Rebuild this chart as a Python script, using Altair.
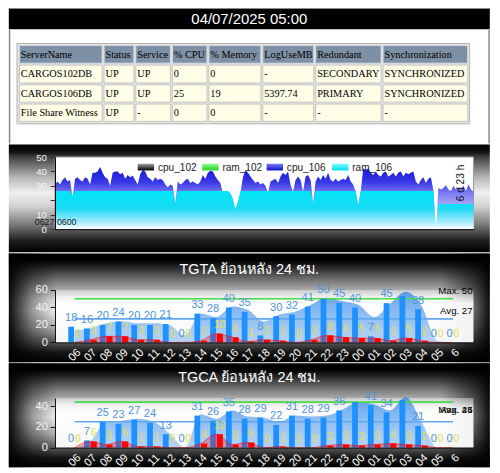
import altair as alt
import pandas as pd

S = 0.962


def p(v):
    return round(v * S, 2)


SANS = "Liberation Sans"
SERIF = "Liberation Serif"

# ---------------- data ----------------
HEADER_TEXT = "04/07/2025 05:00"

TABLE_COLUMNS = ["ServerName", "Status", "Service", "% CPU", "% Memory", "LogUseMB", "Redundant", "Synchronization"]
TABLE_ROW_1 = ["CARGOS102DB", "UP", "UP", "0", "0", "-", "SECONDARY", "SYNCHRONIZED"]
TABLE_ROW_2 = ["CARGOS106DB", "UP", "UP", "25", "19", "5397.74", "PRIMARY", "SYNCHRONIZED"]
TABLE_ROW_3 = ["File Share Witness", "UP", "-", "0", "0", "-", "-", "-"]

MONITOR_START = "0627 0600"
MONITOR_SPAN = "6 d 23 h"
LEGEND_NAMES = ["cpu_102", "ram_102", "cpu_106", "ram_106"]

CPU_106 = [
    31, 33, 31, 34, 36, 33, 34, 22, 35, 36, 34, 33,
    36, 35, 31, 39, 39, 40, 43, 39, 36, 35, 30, 39,
    40, 40, 38, 39, 35, 37.5, 36, 37, 34, 31, 38, 41,
    40, 36, 35, 33, 36, 34, 35, 34, 31, 29, 31, 30,
    18, 33, 31, 32, 34, 35, 32, 33, 32, 31, 33, 37.5,
    35, 39, 40.5, 40, 36.5, 34, 32, 25, 24, 24, 24, 20,
    13, 17, 25, 36, 41, 39, 36.5, 34, 32, 33, 31, 32,
    30, 25, 33, 34, 35, 32, 36.5, 39, 37.5, 40, 31, 26,
    34, 36.5, 34, 26, 36.5, 37.5, 34, 18, 33, 36.5, 34, 37.5,
    35, 39, 34, 33, 35, 33, 34, 35, 34, 37.5, 33, 31,
    26, 16, 26, 42, 41, 42, 39, 37.5, 40, 37.5, 36.5, 39,
    40, 36.5, 37.5, 39, 36.5, 39, 40, 36.5, 39, 38, 39, 40,
    33, 31, 34, 36, 32, 35, 36, 27, 0, 28.5, 27.5, 28.5,
    30.5, 27.5, 26.5, 30, 27.5, 28.5, 27.5, 30, 26.5, 31, 27.5, 26,
]
RAM_106 = [
    26.5, 26.5, 26.5, 26.5, 26.5, 26.5, 26.5, 23, 26.5, 26.5, 26.5, 26.5,
    26.5, 26.5, 26.5, 26.5, 26.5, 26.5, 26.5, 26.5, 26.5, 26.5, 26.5, 26.5,
    26.5, 26.5, 26.5, 26.5, 26.5, 26.5, 26.5, 26.5, 26.5, 26.5, 26.5, 26.5,
    26.5, 26.5, 26.5, 26.5, 26.5, 26.5, 26.5, 26.5, 26.5, 26.5, 26.5, 26.5,
    18, 26.5, 26.5, 26.5, 26.5, 26.5, 26.5, 26.5, 26.5, 26.5, 26.5, 26.5,
    26.5, 26.5, 26.5, 26.5, 26.5, 26.5, 26.5, 26.5, 26.5, 26.5, 25, 21,
    14, 19, 26.5, 26.5, 26.5, 26.5, 26.5, 26.5, 26.5, 26.5, 26.5, 26.5,
    26.5, 26.5, 26.5, 26.5, 26.5, 26.5, 26.5, 26.5, 26.5, 26.5, 26.5, 26.5,
    26.5, 26.5, 26.5, 26.5, 26.5, 26.5, 26.5, 18, 26.5, 26.5, 26.5, 26.5,
    26.5, 26.5, 26.5, 26.5, 26.5, 26.5, 26.5, 26.5, 26.5, 26.5, 26.5, 26.5,
    26.5, 16.5, 26.5, 26.5, 26.5, 26.5, 26.5, 26.5, 26.5, 26.5, 26.5, 26.5,
    26.5, 26.5, 26.5, 26.5, 26.5, 26.5, 26.5, 26.5, 26.5, 26.5, 26.5, 26.5,
    26.5, 26.5, 26.5, 26.5, 26.5, 26.5, 26.5, 26.5, 0, 17.5, 17.5, 17.5,
    17.5, 17.5, 17.5, 17.5, 17.5, 17.5, 17.5, 17.5, 17.5, 17.5, 17.5, 17.5,
]

HOURS = ["06", "07", "08", "09", "10", "11", "12", "13", "14", "15", "16", "17",
         "18", "19", "20", "21", "22", "23", "00", "01", "02", "03", "04", "05", "6"]

TGTA_TITLE = "TGTA ย้อนหลัง 24 ชม."
TGTA_COUNT = [18, 16, 20, 24, 20, 20, 21, 0, 33, 28, 40, 35, 8, 30, 32, 41, 50, 45, 40, 7, 45, 53, 38, 0, 0]
TGTA_TREND = [14, 16, 22, 24, 22, 22, 20, 8, 33, 29, 41, 37, 24, 32, 35, 43, 51, 47, 43, 29, 44, 58, 42, 2, 0]
TGTA_ERROR = [0, 3, 7, 7, 3, 3, 0, 0, 2, 10, 6, 1, 3, 2, 0, 3, 8, 6, 5, 5, 2, 5, 2, 0, 0]
TGTA_MAX = 50
TGTA_AVG = 27
TGTA_HIDDEN = ["03"]

TGCA_TITLE = "TGCA ย้อนหลัง 24 ชม."
TGCA_COUNT = [0, 7, 25, 23, 27, 24, 13, 0, 31, 26, 35, 28, 29, 22, 31, 28, 29, 36, 44, 41, 34, 46, 21, 0, 0]
TGCA_TREND = [0, 6, 25, 26, 28, 25, 14, 0, 32, 28, 36, 30, 29, 25, 31, 30, 31, 37, 44, 42, 36, 49, 25, 0, 0]
TGCA_ERROR = [0, 6, 3, 6, 1, 1, 0, 0, 4, 13, 3, 5, 0, 1, 0, 0, 2, 3, 2, 3, 4, 3, 2, 0, 0]
TGCA_MAX = 44
TGCA_AVG = 25
TGCA_HIDDEN = ["00", "03"]

# ---------------- layout / style constants (reference pixels) ----------------
COL_EDGES = [10, 98, 131, 169, 207, 263, 318, 388, 478]
ROW_EDGES = [37, 57.5, 78, 98, 118]
LEGEND_X = [86, 153, 220, 288]
LEGEND_STOPS = [
    [(0, "#a0a0a0"), (1, "#000000")],
    [(0, "#8cff8c"), (1, "#20d020")],
    [(0, "#7a7aff"), (1, "#1010c8")],
    [(0, "#7affff"), (1, "#00dcef")],
]

ONE = pd.DataFrame({"k": [0]})

# every panel: plot origin at reference x = 48, plot width 435, 17 to the right
PW, PL, PR = p(435), p(48), p(17)


def grad(stops, vertical=True):
    gs = [alt.GradientStop(offset=o, color=c) for o, c in stops]
    if vertical:
        return alt.Gradient(gradient="linear", x1=0, x2=0, y1=0, y2=1, stops=gs)
    return alt.Gradient(gradient="linear", x1=0, x2=1, y1=0, y2=0, stops=gs)


def box(x0, x1, y0, y1, **mark):
    return alt.Chart(ONE).mark_rect(**mark).encode(
        x=alt.value(x0), x2=alt.value(x1), y=alt.value(y0), y2=alt.value(y1))


def label(text, x, y, **mark):
    return alt.Chart(ONE).mark_text(text=text, **mark).encode(x=alt.value(x), y=alt.value(y))


# ---------------- header ----------------
header = alt.layer(
    box(-PL, PW + PR, 0, p(22), fill="#000000"),
    box(-PL, PW + PR, 0, 1, fill="#8c8c8c"),
    label(HEADER_TEXT, p(250 - 48), p(12), color="white", font=SANS, fontSize=p(15.5),
          align="center", baseline="middle"),
).properties(width=PW, height=p(22))

# ---------------- table ----------------
cells = []
for r, row in enumerate([TABLE_COLUMNS, TABLE_ROW_1, TABLE_ROW_2, TABLE_ROW_3]):
    for c, txt in enumerate(row):
        cells.append({
            "x0": COL_EDGES[c] + 1, "x1": COL_EDGES[c + 1] - 1,
            "y0": ROW_EDGES[r] + 1, "y1": ROW_EDGES[r + 1] - 1,
            "tx": COL_EDGES[c] + 2.5, "ty": (ROW_EDGES[r] + ROW_EDGES[r + 1]) / 2 + 0.5,
            "text": txt, "row": r,
        })
cells_df = pd.DataFrame(cells)
head_df = cells_df[cells_df["row"] == 0]
body_df = cells_df[cells_df["row"] > 0]
TX = alt.Scale(domain=[48, 483], nice=False, zero=False)
TY = alt.Scale(domain=[22, 140], nice=False, zero=False, reverse=True)


def cell_rects(df, fill, stroke):
    return alt.Chart(df).mark_rect(fill=fill, stroke=stroke, strokeWidth=1).encode(
        x=alt.X("x0:Q", scale=TX, axis=None), x2="x1:Q",
        y=alt.Y("y0:Q", scale=TY, axis=None), y2="y1:Q")


table_text = alt.Chart(cells_df).mark_text(
    align="left", baseline="middle", font=SERIF, fontSize=p(10.7), color="#000000").encode(
    x=alt.X("tx:Q", scale=TX, axis=None), y=alt.Y("ty:Q", scale=TY, axis=None), text="text:N")

table = alt.layer(
    box(-PL, PW + PR, 0, p(118), fill="#ffffff"),
    box(-PL, -PL + 1.5, 0, p(118), fill="#8a8a8a"),
    box(PW + PR - 1.5, PW + PR, 0, p(118), fill="#8a8a8a"),
    box(p(8.5 - 48), p(479 - 48), p(14), p(97.5), fill="#e4e4e4", stroke="#b4b4b4", strokeWidth=1),
    cell_rects(head_df, "#7e90a5", "#d4dae2"),
    cell_rects(body_df, "#fffee6", "#c6c6c6"),
    table_text,
).properties(width=PW, height=p(118))

# ---------------- monitor area chart ----------------
MH, MT, MB = p(75), p(13), p(24)
mon_df = pd.DataFrame({"h": list(range(len(CPU_106))), "cpu_106": CPU_106, "ram_106": RAM_106})
MXS = alt.Scale(domain=[0, len(CPU_106) - 1], nice=False, zero=False)
MYS = alt.Scale(domain=[0, 50], nice=False)
MXA = alt.Axis(labels=False, ticks=False, grid=False, title=None, domainColor="#000000", zindex=1)
MYA = alt.Axis(values=[0, 10, 20, 30, 40, 50], labelExpr="datum.value == 20 ? '' : datum.label",
               labelColor="#f4f4f4", labelFont=SANS, labelFontSize=p(10), tickColor="#333333",
               tickSize=p(5), labelPadding=p(4), domainColor="#000000", grid=False, title=None, zindex=1)

mon_bg = box(-PL, PW + PR, -MT, MH + MB, fill=grad([
    (0, "#000000"), (0.07, "#111111"), (0.12, "#444444"), (0.31, "#b8b8b8"), (0.45, "#f0f0f0"),
    (0.58, "#d0d0d0"), (0.76, "#707070"), (0.9, "#1a1a1a"), (1, "#000000")]))
mon_plot = box(0, PW, 0, MH, fill="#ffffff", stroke="#9a9a9a", strokeWidth=1)
cpu_area = alt.Chart(mon_df).mark_area(fill=grad([
    (0, "#1414d4"), (0.25, "#3a3ae8"), (0.42, "#7c7cf2"), (1, "#ffffff")])).encode(
    x=alt.X("h:Q", scale=MXS, axis=MXA), y=alt.Y("cpu_106:Q", scale=MYS, axis=MYA))
ram_area = alt.Chart(mon_df).mark_area(fill=grad([
    (0, "#00e6f6"), (0.45, "#18daf4"), (0.8, "#9eeafb"), (1, "#ffffff")])).encode(
    x=alt.X("h:Q", scale=MXS, axis=MXA), y=alt.Y("ram_106:Q", scale=MYS, axis=MYA))

legend_layers = []
for name, lx, stops in zip(LEGEND_NAMES, LEGEND_X, LEGEND_STOPS):
    legend_layers.append(box(p(lx), p(lx + 17), p(7), p(14), fill=grad(stops)))
    legend_layers.append(label(name, p(lx + 21), p(11), align="left", baseline="middle",
                               font=SANS, fontSize=p(10.5), color="#222222"))

monitor = alt.layer(
    mon_bg, mon_plot, cpu_area, ram_area, *legend_layers,
    label(MONITOR_START, -p(21), p(68), align="left", baseline="middle", font=SANS,
          fontSize=p(9.2), color="#1a1a1a"),
    label(MONITOR_SPAN, p(422), p(27), angle=270, align="center", baseline="middle", font=SANS,
          fontSize=p(10.5), color="#111111"),
).properties(width=PW, height=MH)

# ---------------- hourly panels ----------------
HOUR_EXPR = "[" + ",".join("'%s'" % h for h in HOURS) + "][datum.value]"


def hour_panel(title, count, trend, error, vmax, vavg, ymax, yticks, H, T, B, hidden, max_y, avg_y):
    df = pd.DataFrame({
        "i": list(range(len(HOURS))), "hour": HOURS, "count": count, "trend": trend, "error": error,
        "count_label": ["" if h in hidden else str(c) for h, c in zip(HOURS, count)],
        "error_label": [str(e) for e in error],
    })
    max_df = pd.DataFrame({"x0": [0], "x1": [len(HOURS) - 1], "y": [vmax]})
    avg_df = pd.DataFrame({"x0": [0], "x1": [len(HOURS) - 1], "y": [vavg]})
    xs = alt.Scale(domain=[-0.92, 24.98], nice=False, zero=False)
    ys = alt.Scale(domain=[0, ymax], nice=False)
    xa = alt.Axis(values=list(range(len(HOURS))), labelExpr=HOUR_EXPR, labelAngle=-45,
                  labelColor="#ffffff", labelFont=SANS, labelFontSize=p(11.5), ticks=False,
                  domainColor="#111111", grid=False, title=None, zindex=1, labelOverlap=False,
                  labelFlush=False, labelBound=False, labelPadding=p(4))
    ya = alt.Axis(values=yticks, labelColor="#f4f4f4", labelFont=SANS, labelFontSize=p(11.5),
                  tickColor="#111111", tickSize=p(5), labelPadding=p(3), domainColor="#111111",
                  grid=False, title=None, zindex=1, labelOverlap=False, labelFlush=False)
    X = alt.X("i:Q", scale=xs, axis=xa)
    base = alt.Chart(df)
    bgv = box(-PL, PW + PR, -T, H + B, fill=grad([
        (0, "#000000"), (0.06, "#000000"), (0.12, "#222222"), (0.25, "#777777"), (0.42, "#dcdcdc"),
        (0.52, "#f4f4f4"), (0.69, "#b0b0b0"), (0.82, "#555555"), (0.91, "#151515"), (1, "#000000")]))
    bgh = box(-PL, PW + PR, -T, H + B, fill=grad([
        (0, "rgba(0,0,0,0.95)"), (0.05, "rgba(0,0,0,0.35)"), (0.1, "rgba(0,0,0,0)"),
        (0.9, "rgba(0,0,0,0)"), (0.97, "rgba(0,0,0,0.6)"), (1, "rgba(0,0,0,0.95)")], vertical=False))
    plotbg = box(0, PW, 0, H, fill=grad([
        (0, "rgba(255,255,255,0.35)"), (0.25, "rgba(255,255,255,0.9)"), (1, "rgba(255,255,255,0.95)")]))
    trend_area = base.mark_area(interpolate="monotone", fill=grad([
        (0, "rgba(40,130,232,0.72)"), (1, "rgba(70,150,236,0.36)")])).encode(
        x=X, y=alt.Y("trend:Q", scale=ys, axis=ya))

    def rule(d, colour):
        return alt.Chart(d).mark_rule(color=colour, strokeWidth=1.6).encode(
            x=alt.X("x0:Q", scale=xs, axis=xa), x2="x1:Q", y=alt.Y("y:Q", scale=ys, axis=ya))

    count_bars = base.mark_bar(color="#1e90ff", size=p(6), xOffset=-p(3.5), orient="vertical").encode(
        x=X, y=alt.Y("count:Q", scale=ys, axis=ya))
    err_area = base.mark_area(interpolate="monotone", color="#ff0000", opacity=0.3).encode(
        x=X, y=alt.Y("error:Q", scale=ys, axis=ya))
    err_line = base.mark_line(interpolate="monotone", color="#ff0000", opacity=0.55, strokeWidth=1).encode(
        x=X, y=alt.Y("error:Q", scale=ys, axis=ya))
    err_bars = base.mark_bar(color="#ff0000", size=p(6.5), xOffset=p(3.5), orient="vertical").encode(
        x=X, y=alt.Y("error:Q", scale=ys, axis=ya))
    count_text = base.mark_text(color="#4f95dd", font=SANS, fontSize=p(11.5), dx=-p(3.5), dy=-p(9)).encode(
        x=X, y=alt.Y("count:Q", scale=ys, axis=ya), text="count_label:N")
    err_text = base.mark_text(color="#e0e050", font=SANS, fontSize=p(10.5), dx=p(3.5), dy=-p(9)).encode(
        x=X, y=alt.Y("error:Q", scale=ys, axis=ya), text="error_label:N")
    return alt.layer(
        bgv, bgh, plotbg, trend_area, rule(max_df, "#44dd44"), rule(avg_df, "#62a8ee"),
        count_bars, err_area, err_line, err_bars, count_text, err_text,
        label(title, p(202), -p(20.5), color="#ffffff", font=SANS, fontSize=p(15), align="center",
              baseline="middle"),
        label("Max. %d" % vmax, PW - p(1), max_y, color="#000000", font=SANS, fontSize=p(10),
              align="right", baseline="middle"),
        label("Avg. %d" % vavg, PW - p(1), avg_y, color="#000000", font=SANS, fontSize=p(10),
              align="right", baseline="middle"),
    ).properties(width=PW, height=H)


tgta = hour_panel(TGTA_TITLE, TGTA_COUNT, TGTA_TREND, TGTA_ERROR, TGTA_MAX, TGTA_AVG, 60, [0, 20, 40, 60],
                  p(54.5), p(38), p(20.5), TGTA_HIDDEN, p(1), p(22))
tgca = hour_panel(TGCA_TITLE, TGCA_COUNT, TGCA_TREND, TGCA_ERROR, TGCA_MAX, TGCA_AVG, 48, [0, 20, 40],
                  p(51.6), p(36.1), p(20.3), TGCA_HIDDEN, p(12.4), p(12.4))

chart = alt.vconcat(header, table, monitor, tgta, tgca, spacing=0, padding=0).configure(
    background="#ffffff").configure_view(strokeWidth=0)

chart.save("out.html", embed_options={"renderer": "svg", "actions": False})
